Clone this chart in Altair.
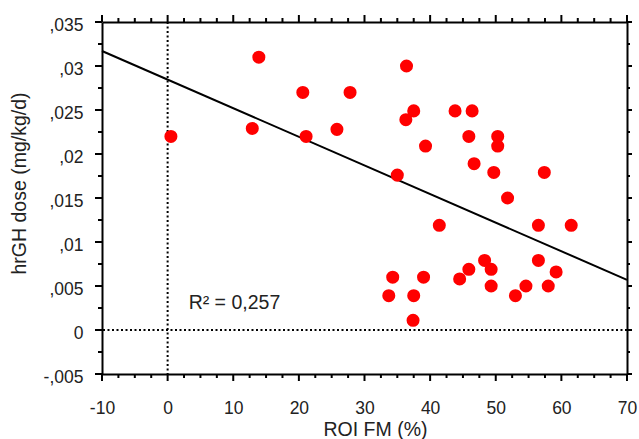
import altair as alt
import pandas as pd
import numpy as np

# ---- data ----
roi_fm = [0.5, 12.9, 13.9, 20.6, 21.1, 25.8, 27.8, 36.4, 37.5, 36.3,
          39.3, 35.0, 43.8, 46.4, 45.9, 50.3, 50.3, 46.7, 49.7, 57.4,
          51.8, 41.4, 56.5, 61.5, 34.3, 33.7, 37.5, 39.0, 37.4, 44.5,
          45.9, 48.3, 49.3, 49.3, 53.0, 54.6, 56.5, 59.2, 58.0]
dose = [0.0220, 0.0229, 0.0310, 0.0270, 0.0220, 0.0228, 0.0270, 0.0300, 0.0249, 0.0239,
        0.0209, 0.0176, 0.0249, 0.0249, 0.0220, 0.0220, 0.0209, 0.0189, 0.0179, 0.0179,
        0.0150, 0.0119, 0.0119, 0.0119, 0.0060, 0.0039, 0.0039, 0.0060, 0.0011, 0.0058,
        0.0069, 0.0079, 0.0069, 0.0050, 0.0039, 0.0050, 0.0079, 0.0066, 0.0050]

fit_x = [-10, 70]
fit_y = [0.0317, 0.0057]

x_major_ticks = [-10, 0, 10, 20, 30, 40, 50, 60, 70]
x_minor_ticks = [-7.5, -5, -2.5, 2.5, 5, 7.5, 12.5, 15, 17.5, 22.5, 25, 27.5,
                 32.5, 35, 37.5, 42.5, 45, 47.5, 52.5, 55, 57.5, 62.5, 65, 67.5]
y_major_ticks = [-0.005, 0.0, 0.005, 0.01, 0.015, 0.02, 0.025, 0.03, 0.035]
y_minor_ticks = [-0.0025, 0.0025, 0.0075, 0.0125, 0.0175, 0.0225, 0.0275, 0.0325]

annot_x = [3.2]
annot_y = [0.0024]
annot_text = ["R\u00b2 = 0,257"]

FONT = "Liberation Sans"
TXT = "#222222"
W, H = 525, 352

pts = pd.DataFrame({"roi": roi_fm, "dose": dose})
fit = pd.DataFrame({"fx": fit_x, "fy": fit_y})
vline = pd.DataFrame({"vx": [0]})
hline = pd.DataFrame({"hy": [0]})
ann = pd.DataFrame({"ax": annot_x, "ay": annot_y, "t": annot_text})
xmaj = pd.DataFrame({"v": x_major_ticks})
xmin = pd.DataFrame({"v": x_minor_ticks})
ymaj = pd.DataFrame({"v": y_major_ticks})
ymin = pd.DataFrame({"v": y_minor_ticks})

xscale = alt.Scale(domain=[-10, 70], nice=False, zero=False)
yscale = alt.Scale(domain=[-0.005, 0.035], nice=False, zero=False)

common = dict(grid=False, domainColor="#000000", domainWidth=2, ticks=False,
              labelFont=FONT, labelColor=TXT, titleFont=FONT,
              titleColor=TXT, titleFontWeight="normal", labelOverlap=False,
              labelFlush=False)

x_bottom = alt.Axis(orient="bottom", values=x_major_ticks,
                    labelExpr="replace(datum.label, '\u2212', '-')",
                    labelFontSize=17.5, labelPadding=25,
                    title="ROI FM (%)", titleFontSize=19.5,
                    titleX=273, titleY=61, titleBaseline="alphabetic", titleAlign="center",
                    **common)
y_left = alt.Axis(orient="left", values=y_major_ticks,
                  labelExpr="replace(replace(format(datum.value, '.3~f'), '\u2212', '-'), '0.', ',')",
                  labelFontSize=17.5, labelPadding=19, labelOffset=3,
                  title="hrGH dose (mg/kg/d)", titleFontSize=19.5,
                  titleAngle=-90, titleX=-83, titleY=161, titleAlign="center",
                  titleBaseline="middle",
                  **common)
x_top = alt.Axis(orient="top", values=x_major_ticks, labels=False, title=None, **common)
y_right = alt.Axis(orient="right", values=y_major_ticks, labels=False, title=None, **common)


def xticks(df, length, side):
    # side: 'bottom' or 'top'; tick drawn outward from the frame via mark_tick
    ypos = H + length / 2 if side == "bottom" else -length / 2
    return alt.Chart(df).mark_tick(color="black", orient="vertical", size=length,
                                   thickness=2, opacity=1, clip=False).encode(
        x=alt.X("v:Q", scale=xscale, axis=None), y=alt.value(ypos))


def yticks(df, length, side):
    xpos = -length / 2 if side == "left" else W + length / 2
    return alt.Chart(df).mark_tick(color="black", orient="horizontal", size=length,
                                   thickness=2, opacity=1, clip=False).encode(
        y=alt.Y("v:Q", scale=yscale, axis=None), x=alt.value(xpos))


tick_layers = [
    xticks(xmaj, 7, "bottom"), xticks(xmin, 4, "bottom"),
    xticks(xmaj, 7, "top"), xticks(xmin, 4, "top"),
    yticks(ymaj, 7, "left"), yticks(ymin, 4, "left"),
    yticks(ymaj, 5, "right"), yticks(ymin, 3, "right"),
]

vrule = alt.Chart(vline).mark_rule(color="black", strokeWidth=2, strokeDash=[2, 2.5]).encode(
    x=alt.X("vx:Q", scale=xscale, axis=None))
hrule = alt.Chart(hline).mark_rule(color="black", strokeWidth=2, strokeDash=[2, 2.5]).encode(
    y=alt.Y("hy:Q", scale=yscale, axis=None))

fit_line = alt.Chart(fit).mark_line(color="black", strokeWidth=2).encode(
    x=alt.X("fx:Q", scale=xscale, axis=x_top),
    y=alt.Y("fy:Q", scale=yscale, axis=y_right))

points = alt.Chart(pts).mark_circle(size=170, color="#ff0000", opacity=1).encode(
    x=alt.X("roi:Q", scale=xscale, axis=x_bottom),
    y=alt.Y("dose:Q", scale=yscale, axis=y_left))

text = alt.Chart(ann).mark_text(align="left", baseline="alphabetic", font=FONT,
                                fontSize=19.5, color=TXT).encode(
    x=alt.X("ax:Q", scale=xscale, axis=None),
    y=alt.Y("ay:Q", scale=yscale, axis=None),
    text="t:N")

chart = alt.layer(vrule, hrule, fit_line, points, text, *tick_layers).resolve_axis(
    x="independent", y="independent").properties(
    width=W, height=H,
    autosize=alt.AutoSizeParams(type="none"),
    padding={"left": 102, "top": 22, "right": 12, "bottom": 65},
).configure_view(stroke=None).configure(background="white")

chart.save("out.html", embed_options={"renderer": "svg", "actions": False})
